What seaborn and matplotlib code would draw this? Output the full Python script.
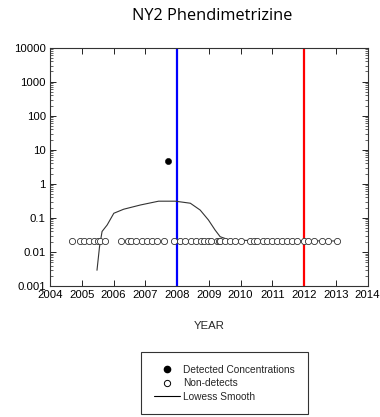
import matplotlib
matplotlib.use("Agg")
import matplotlib.pyplot as plt
import matplotlib.ticker as mticker
from matplotlib.lines import Line2D
import seaborn as sns
import pandas as pd
import numpy as np

sns.set_style("ticks")
plt.rcParams['font.family'] = ['Liberation Sans', 'DejaVu Sans']

# Data
nd_years = [2004.68, 2004.93, 2005.08, 2005.23, 2005.38, 2005.52, 2005.59, 2005.72,
            2006.25, 2006.46, 2006.55, 2006.71, 2006.89, 2007.06, 2007.21, 2007.37, 2007.59,
            2007.92, 2008.10, 2008.26, 2008.44, 2008.61, 2008.77, 2008.86, 2008.99,
            2009.08, 2009.26, 2009.31, 2009.36, 2009.52, 2009.67, 2009.84, 2010.01,
            2010.30, 2010.41, 2010.52, 2010.72, 2010.83, 2010.99, 2011.14, 2011.31,
            2011.46, 2011.63, 2011.79, 2012.00, 2012.14, 2012.30, 2012.58, 2012.77, 2013.03]
nd_value = 0.021
det_years = [2007.71]
det_values = [4.7]
lowess_x = [2005.48, 2005.56, 2005.64, 2005.80, 2006.01, 2006.32, 2006.85, 2007.42,
            2007.95, 2008.42, 2008.73, 2008.99, 2009.20, 2009.36, 2009.68, 2013.03]
lowess_y = [0.0029, 0.0143, 0.040, 0.062, 0.137, 0.18, 0.24, 0.31,
            0.31, 0.27, 0.17, 0.087, 0.044, 0.028, 0.022, 0.021]
vlines = [(2008.0, '#0000ff'), (2012.0, '#ff0000')]
x_ticks = list(range(2004, 2015))
y_ticks = [0.001, 0.01, 0.1, 1, 10, 100, 1000, 10000]
y_labels = ['0.001', '0.01', '0.1', '1', '10', '100', '1000', '10000']

nd_df = pd.DataFrame({'year': nd_years, 'value': [nd_value] * len(nd_years)})
det_df = pd.DataFrame({'year': det_years, 'value': det_values})
lw_df = pd.DataFrame({'year': lowess_x, 'value': lowess_y})

fig = plt.figure(figsize=(3.8, 4.17), dpi=100)
ax = fig.add_axes([50/380, 1 - 286/417, (367.5-50)/380, (286-47.7)/417])

ax.set_yscale('log')
ax.set_xlim(2004, 2014)
ax.set_ylim(0.001, 10000)

for xv, c in vlines:
    ax.axvline(xv, color=c, lw=1.6, zorder=2)

sns.lineplot(data=lw_df, x='year', y='value', ax=ax, color='#333333', lw=0.8,
             sort=False, estimator=None, zorder=3, legend=False)
sns.scatterplot(data=nd_df, x='year', y='value', ax=ax, s=20, facecolor='white',
                edgecolor='#333333', linewidth=0.6, marker='o', zorder=4, legend=False)
sns.scatterplot(data=det_df, x='year', y='value', ax=ax, s=20, color='black',
                edgecolor='black', marker='o', zorder=5, legend=False)

ax.set_xticks(x_ticks)
ax.set_xticklabels([str(t) for t in x_ticks])
ax.set_yticks(y_ticks)
ax.set_yticklabels(y_labels)
ax.yaxis.set_minor_locator(mticker.LogLocator(base=10, subs=np.arange(2, 10), numticks=20))
ax.yaxis.set_minor_formatter(mticker.NullFormatter())
ax.tick_params(axis='both', which='major', direction='in', length=4, width=0.6,
               top=True, right=True, labelsize=8.2, pad=3, colors='black')
ax.tick_params(axis='y', which='minor', direction='in', length=2, width=0.5, right=True, left=True)
ax.tick_params(axis='x', which='minor', bottom=False, top=False)
for sp in ax.spines.values():
    sp.set_linewidth(0.8)
    sp.set_color('#333333')
ax.set_xlabel('YEAR', fontsize=8.2, labelpad=15)
ax.set_ylabel('')

fig.text(212/380, 1 - 16/417, 'NY2 Phendimetrizine', ha='center', va='center',
         fontsize=11.8, color='black', family=['Open Sans', 'DejaVu Sans'])

handles = [
    Line2D([], [], marker='o', ls='none', color='black', markersize=4.5),
    Line2D([], [], marker='o', ls='none', markerfacecolor='white', markeredgecolor='black',
           markersize=4.5, markeredgewidth=0.7),
    Line2D([], [], color='black', lw=0.8),
]
leg = fig.legend(handles, ['Detected Concentrations', 'Non-detects', 'Lowess Smooth'],
                 loc='upper left', bbox_to_anchor=(141/380, 1 - 352/417),
                 bbox_transform=fig.transFigure, fontsize=7.3, frameon=True, fancybox=False,
                 handlelength=2.6, handletextpad=0.3, labelspacing=0.35,
                 borderpad=1.25, borderaxespad=0)
leg.get_frame().set_edgecolor('black')
leg.get_frame().set_linewidth(0.8)

fig.savefig('out.png', dpi=100)
